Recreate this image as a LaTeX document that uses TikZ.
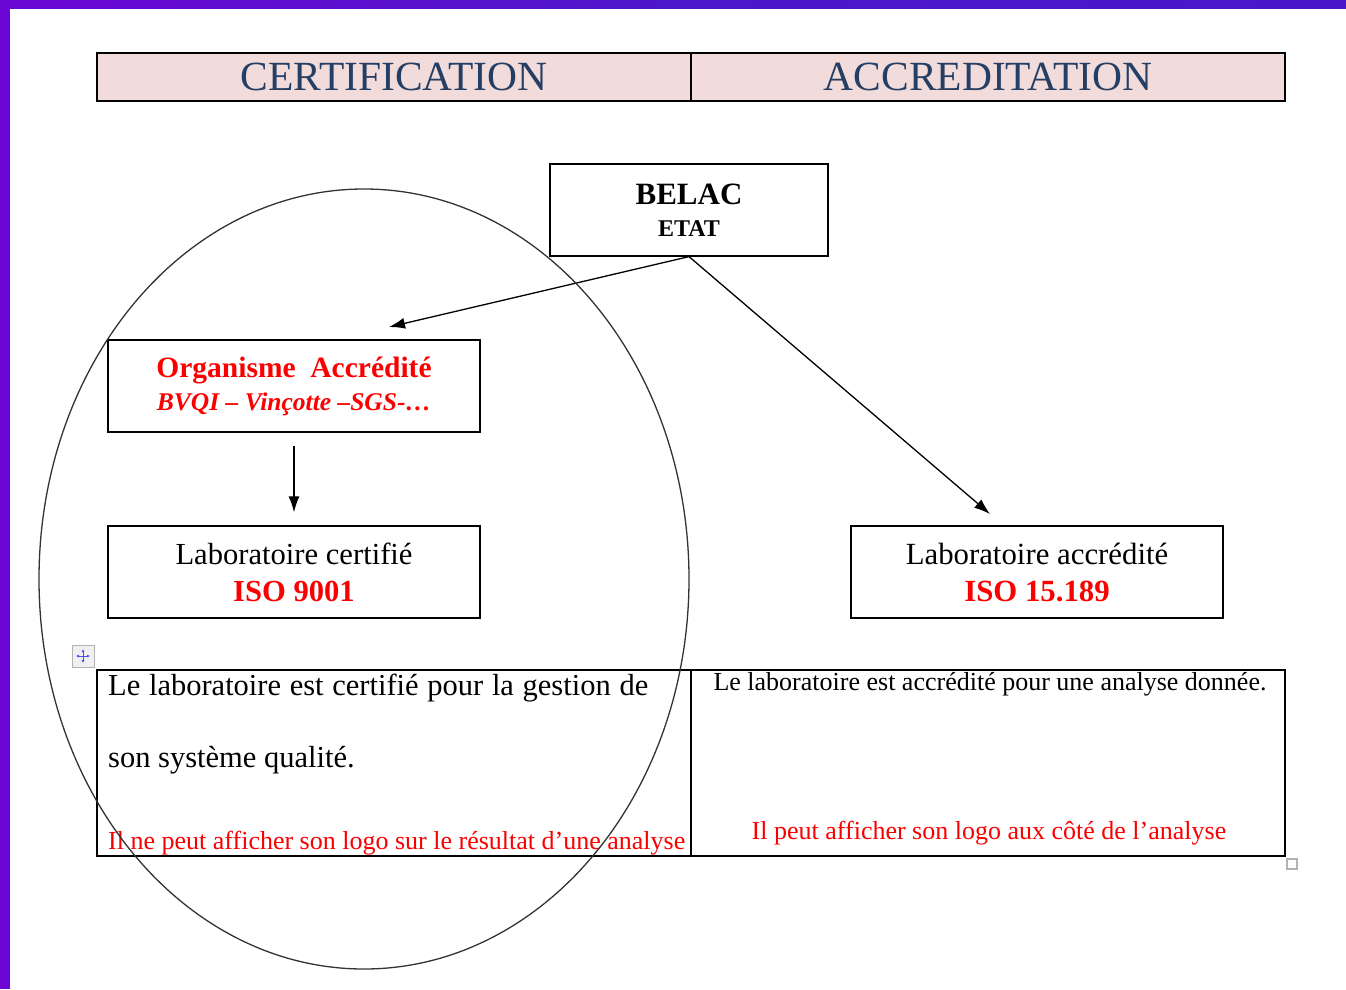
\documentclass[tikz,border=0pt]{standalone}
\usepackage{fontspec}
\setmainfont{Liberation Serif}
\usetikzlibrary{arrows.meta}
\definecolor{headpink}{RGB}{242,220,219}
\definecolor{headblue}{RGB}{36,62,100}
\definecolor{labred}{RGB}{250,0,0}
\definecolor{framepurple}{RGB}{108,6,212}
\tikzset{>={Latex[length=16pt,width=11pt]}}
\tikzset{
    cell/.style={draw,line width=1.6pt,minimum width=594pt,minimum height=#1,inner sep=0pt},
    headcell/.style={cell=48pt,fill=headpink,text=headblue,font=\fontsize{41.5}{44}\selectfont},
    labbox/.style={draw,line width=1.4pt,minimum width=372pt,minimum height=92pt,align=center,inner sep=0pt},
    note/.style={inner sep=0pt,font=\fontsize{#1}{#1}\selectfont}
}
\newcommand{\boxfont}[2]{\fontsize{#1}{#2}\selectfont}

\begin{document}
\begin{tikzpicture}[x=1pt,y=-1pt]
            \useasboundingbox (0,0) rectangle (1346,989);
            % page frame
            \shade[left color=framepurple,right color={rgb,255:red,72;green,24;blue,200},middle color={rgb,255:red,76;green,22;blue,202}] (0,0) rectangle (1346,8);
            \fill[framepurple] (0,0) rectangle (10,989);
            % header
            \node[headcell] (cert) at (394,77) {CERTIFICATION};
            \node[headcell] (accr) at (988,77) {ACCREDITATION};
            % boxes
            \node[labbox,line width=1.2pt,minimum width=278pt,font=\boxfont{31}{32}] (belac) at (689,210) {\bfseries BELAC\\\boxfont{24}{32}\bfseries ETAT};
            \node[labbox,text=labred,font=\boxfont{29.5}{33}] (orga) at (294,386) {\bfseries Organisme\ \ Accrédité\\\boxfont{25.5}{33}\bfseries\itshape BVQI -- Vinçotte --SGS-\dots};
            \node[labbox,font=\boxfont{30.6}{37}] (labcert) at (294,572) {Laboratoire certifié\\\bfseries\color{labred}ISO 9001};
            \node[labbox,font=\boxfont{30.8}{37}] (labacc) at (1037,572) {Laboratoire accrédité\\\bfseries\color{labred}ISO 15.189};
            \coordinate (orgtip) at (389,327);
            \coordinate (acctip) at (990,514);
            \draw[->,line width=1.3pt] (belac.south) -- (orgtip);
            \draw[->,line width=1.3pt] (belac.south) -- (acctip);
            \draw[->,line width=1.3pt,shorten <=13pt,shorten >=13pt] (orga.south) -- (labcert.north);
            % bottom table
            \node[cell=186pt] (certcell) at (394,763) {};
            \node[cell=186pt] (acccell) at (988,763) {};
            \node[note=30.5,anchor=west] (certtxt1) at (108,688) {\makebox[540pt][s]{Le laboratoire est certifié pour la gestion de}};
            \node[note=30.5,anchor=west] (certtxt2) at (108,760) {son système qualité.};
            \node[note=26,anchor=west,text=labred] (certlogo) at (108,843) {Il ne peut afficher son logo sur le résultat d’une analyse};
            \node[note=26] (acctxt) at (990,684) {Le laboratoire est accrédité pour une analyse donnée.};
            \node[note=26,text=labred] (acclogo) at (989,833) {Il peut afficher son logo aux côté de l’analyse};
            % circle round the certification side
            \draw[line width=1.3pt,black!80] (364,579) ellipse [x radius=325pt,y radius=390pt];
            % table handles
            \draw[gray!60,fill=gray!12] (72,645) rectangle (94,667);
            \draw[<->,>={Latex[length=3pt,width=3pt]},blue!70,line width=1pt] (76,656) -- (90,656);
            \draw[<->,>={Latex[length=3pt,width=3pt]},blue!70,line width=1pt] (83,649) -- (83,663);
            \draw[gray!60,line width=1.2pt] (1287,859) rectangle (1297,869);
        \end{tikzpicture}
\end{document}
